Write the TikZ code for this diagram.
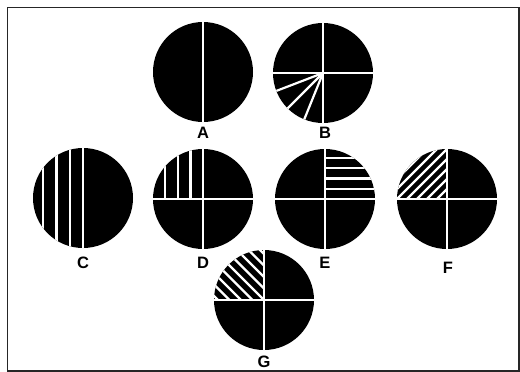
\documentclass[tikz,border=0pt]{standalone}
\usepackage{fontspec}
\setmainfont{Liberation Sans}
\usetikzlibrary{calc}
\tikzset{
  disc/.style={circle, fill=black, minimum size=100pt, inner sep=0pt, outer sep=0pt},
  wl/.style={white, line width=2.4pt},
  hl/.style={white, line width=2.2pt},
  lbl/.style={font=\bfseries\fontsize{16.5}{16.5}\selectfont, inner sep=0pt},
  frame/.style={draw=black!85, line width=1.6pt}
}
\begin{document}
\begin{tikzpicture}[x=1pt,y=-1pt]
\useasboundingbox (0,0) rectangle (520,372);
\draw[frame] (7.5,7.5) rectangle (518.8,370.8);
% discs
\node[disc] (A) at (203,72) {};
\node[disc] (B) at (323,73) {};
\node[disc] (C) at (83,198) {};
\node[disc] (D) at (203,199) {};
\node[disc] (E) at (325,199) {};
\node[disc] (F) at (447,199) {};
\node[disc] (G) at (264,300) {};
% labels
\node[lbl] (lA) at (203,133) {A};
\node[lbl] (lB) at (325,133) {B};
\node[lbl] (lC) at (83,263) {C};
\node[lbl] (lD) at (203,263) {D};
\node[lbl] (lE) at (325,263) {E};
\node[lbl] (lF) at (448,268) {F};
\node[lbl] (lG) at (264,362) {G};
% A
\begin{scope}
\clip (A.center) circle (50pt);
\draw[wl] ($(A)+(0,-55)$) -- ($(A)+(0,55)$);
\end{scope}
% B
\begin{scope}
\clip (B.center) circle (50pt);
\foreach \a in {201,225,248} \draw[hl] (B.center) -- ($(B.center)+(\a:60pt)$);
\draw[wl] ($(B)+(0,-55)$) -- ($(B)+(0,55)$);
\draw[wl] ($(B)+(-55,0)$) -- ($(B)+(55,0)$);
\end{scope}
% C
\begin{scope}
\clip (C.center) circle (50pt);
\foreach \d in {0,13.3,26.6,40} \draw[hl] ($(C)+(-\d,-55)$) -- ($(C)+(-\d,55)$);
\end{scope}
% D
\begin{scope}
\clip (D.center) circle (50pt);
\foreach \d in {12.5,25,38} \draw[hl] ($(D)+(-\d,-55)$) -- ($(D)+(-\d,0)$);
\draw[wl] ($(D)+(0,-55)$) -- ($(D)+(0,55)$);
\draw[wl] ($(D)+(-55,0)$) -- ($(D)+(55,0)$);
\end{scope}
% E
\begin{scope}
\clip (E.center) circle (50pt);
\foreach \d in {10.3,20.6,31,41.3} \draw[hl] ($(E)+(0,-\d)$) -- ($(E)+(55,-\d)$);
\draw[wl] ($(E)+(0,-55)$) -- ($(E)+(0,55)$);
\draw[wl] ($(E)+(-55,0)$) -- ($(E)+(55,0)$);
\end{scope}
% F
\begin{scope}
\clip (F.center) circle (50pt);
\foreach \c in {10,20,30,40,50,60,70} \draw[hl] ($(F)+(-\c,0)$) -- ($(F)+(0,-\c)$);
\draw[wl] ($(F)+(0,-55)$) -- ($(F)+(0,55)$);
\draw[wl] ($(F)+(-55,0)$) -- ($(F)+(55,0)$);
\end{scope}
% G
\begin{scope}
\clip (G.center) circle (50pt);
\begin{scope}
\clip ($(G)+(-55,-55)$) rectangle (G.center);
\foreach \c in {-46,-34.5,-23,-11.5,0,11.5,23,34.5,46} \draw[hl] ($(G)+(60,60-\c)$) -- ($(G)+(-60,-60-\c)$);
\end{scope}
\draw[wl] ($(G)+(0,-55)$) -- ($(G)+(0,55)$);
\draw[wl] ($(G)+(-55,0)$) -- ($(G)+(55,0)$);
\end{scope}
\end{tikzpicture}
\end{document}
